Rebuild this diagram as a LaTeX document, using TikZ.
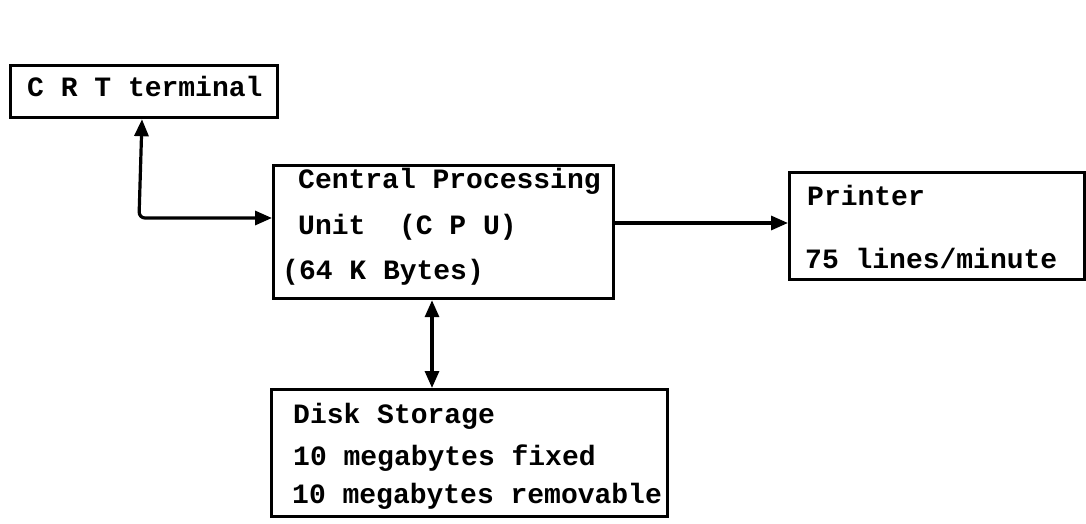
\documentclass[tikz,border=0pt]{standalone}
\usepackage{fontspec}
\newfontfamily\typew{Liberation Mono}
\usetikzlibrary{arrows.meta}
\begin{document}
\begin{tikzpicture}[x=1pt,y=-1pt,
  box/.style={draw=black,line width=3.2pt,rectangle,inner sep=0pt,anchor=north west},
  lbl/.style={anchor=base west,inner sep=0pt,font=\typew\bfseries\fontsize{28}{30}\selectfont},
  conn/.style={line width=3.2pt,-{Triangle[length=17pt,width=14pt]}},
  conn2/.style={line width=3.2pt,{Triangle[length=17pt,width=14pt]}-{Triangle[length=17pt,width=14pt]}}]
\useasboundingbox (0,0) rectangle (1086,524);
% boxes
\node[box,minimum width=267pt,minimum height=52pt] (crt) at (9,64) {};
\node[box,minimum width=340pt,minimum height=133pt] (cpu) at (272,164) {};
\node[box,minimum width=295pt,minimum height=107pt] (prn) at (788,171) {};
\node[box,minimum width=396pt,minimum height=127pt] (disk) at (270,388) {};
% texts
\node[lbl] (t1) at (27,97) {C R T terminal};
\node[lbl] (t2) at (298,188) {Central Processing};
\node[lbl] (t3) at (298,234) {Unit\ \ (C P U)};
\node[lbl] (t4) at (282,279) {(64 K Bytes)};
\node[lbl] (t5) at (807,205) {Printer};
\node[lbl] (t6) at (805,268) {75 lines/minute};
\node[lbl] (t7) at (293,423) {Disk Storage};
\node[lbl] (t8) at (293,465) {10 megabytes fixed};
\node[lbl] (t9) at (292,503) {10 megabytes removable};
% connectors
\coordinate (bend) at (139,218);
\draw[conn2,rounded corners=6pt] (crt.south -| 142,0) -- (bend) -- (cpu.west |- bend);
\draw[conn] (cpu.east |- 0,223) -- (prn.west |- 0,223);
\draw[conn2] (cpu.south -| 432,0) -- (disk.north -| 432,0);
\end{tikzpicture}
\end{document}
